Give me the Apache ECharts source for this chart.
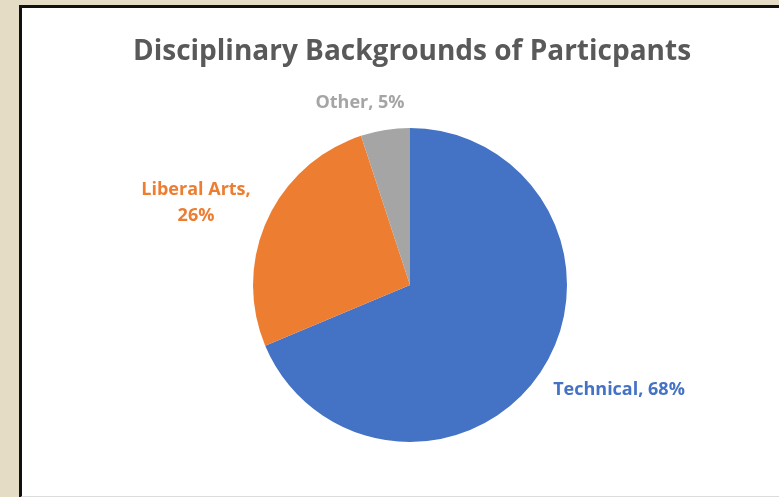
<!DOCTYPE html>
<html><head><meta charset="utf-8">
<script src="https://cdn.jsdelivr.net/npm/echarts@6/dist/echarts.min.js"></script>
<style>
html,body{margin:0;padding:0;width:779px;height:497px;overflow:hidden;background:#E5DCC6;}
#frame{position:absolute;left:19px;top:5px;width:800px;height:488px;border-left:3px solid #111;border-top:3px solid #111;border-bottom:2px solid #ddd;background:#fff;}
#chart{position:absolute;left:0;top:0;width:779px;height:497px;}
</style></head><body>
<div id="frame"></div>
<div id="chart"></div>
<script>
const categories = ['Technical', 'Liberal Arts', 'Other'];
const values = [68, 26, 5];
const labelsPct = ['68%', '26%', '5%'];
const colors = ['#4472C4', '#ED7D31', '#A5A5A5'];
const titleText = 'Disciplinary Backgrounds of Particpants';

// label anchor offsets from pie centre (layout only)
const labelOffsets = {'Technical':[209,105], 'Liberal Arts':[-214,-82], 'Other':[-50,-182]};
const CX = 410, CY = 285;

const chart = echarts.init(document.getElementById('chart'), null, {renderer:'canvas'});
const data = categories.map((c,i)=>({
  name:c, value:values[i],
  itemStyle:{color:colors[i]},
  label:{color:colors[i], formatter: i===1 ? c+',\n'+labelsPct[i] : c+', '+labelsPct[i]}
}));
chart.setOption({
  backgroundColor:'transparent',
  animation:false,
  title:{text:titleText,left:407,top:33,textAlign:'center',
    textStyle:{fontFamily:'Open Sans',fontWeight:'bold',fontSize:28,color:'#595959'}},
  series:[{
    type:'pie',
    center:[CX,CY],
    radius:157,
    startAngle:90,
    clockwise:true,
    data:data,
    label:{show:true,position:'outside',fontFamily:'Open Sans',fontWeight:'bold',fontSize:18,lineHeight:26,align:'center'},
    labelLine:{show:false},
    labelLayout:function(p){
      const o = labelOffsets[categories[p.dataIndex]];
      return {x:CX+o[0], y:CY+o[1], align:'center', verticalAlign:'middle'};
    },
    itemStyle:{borderWidth:0}
  }]
});
</script></body></html>
